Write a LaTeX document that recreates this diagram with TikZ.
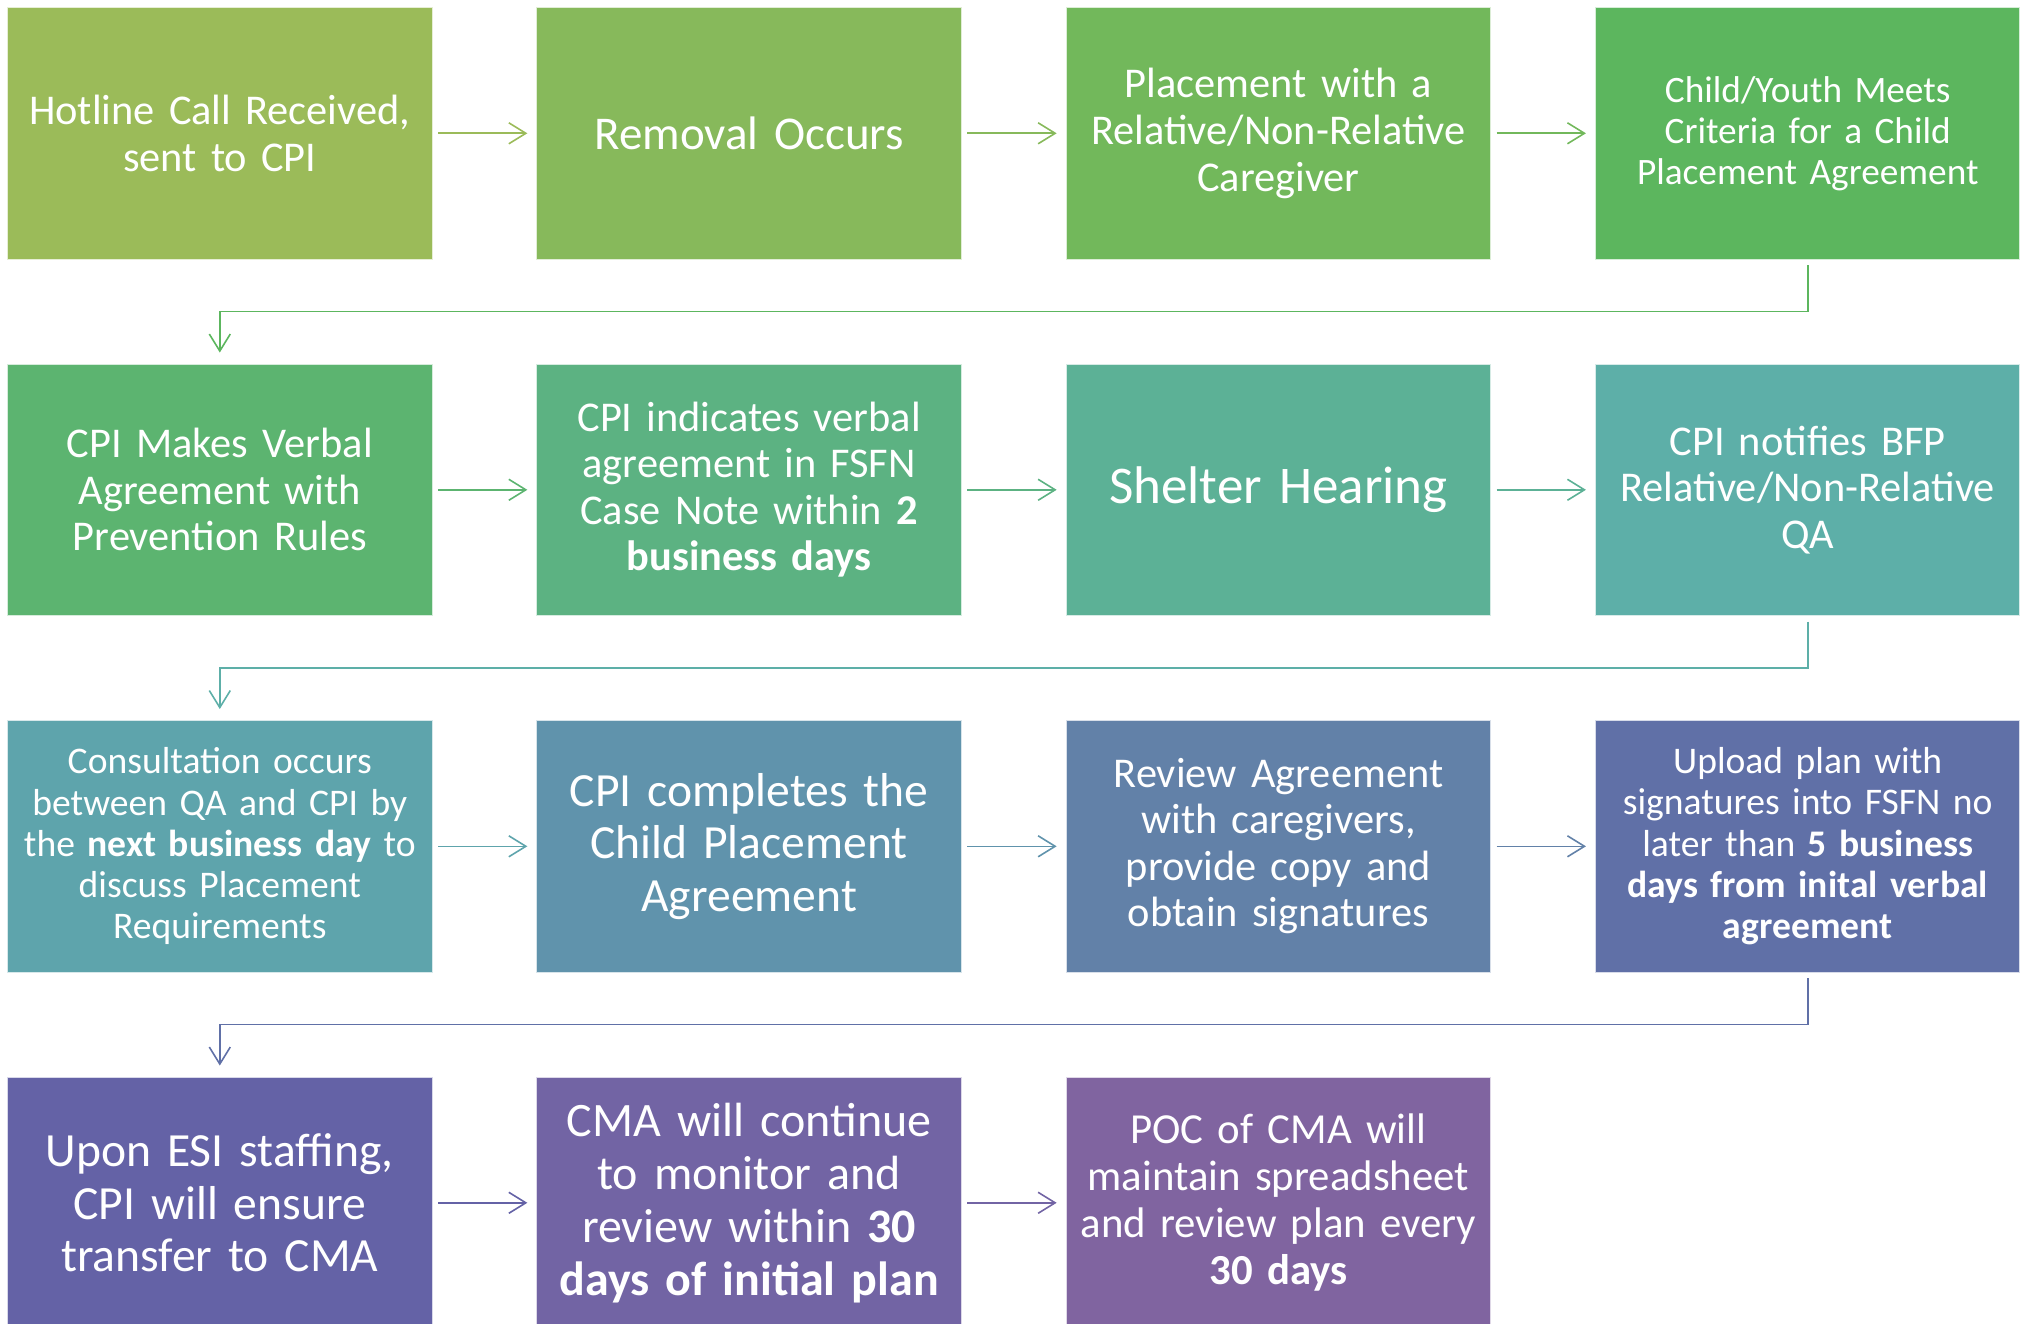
\documentclass[tikz,border=0pt]{standalone}
\usepackage{fontspec}
\setmainfont{Carlito}[WordSpace=0.85]
\usetikzlibrary{arrows.meta}
\definecolor{cA}{HTML}{9BBB59}
\definecolor{cB}{HTML}{87B95B}
\definecolor{cC}{HTML}{72B85B}
\definecolor{cD}{HTML}{5CB65E}
\definecolor{cE}{HTML}{5CB470}
\definecolor{cF}{HTML}{5CB282}
\definecolor{cG}{HTML}{5CB196}
\definecolor{cH}{HTML}{5DAFA8}
\definecolor{cI}{HTML}{5EA4AC}
\definecolor{cJ}{HTML}{6093AC}
\definecolor{cK}{HTML}{6281A8}
\definecolor{cL}{HTML}{6070A7}
\definecolor{cM}{HTML}{6462A6}
\definecolor{cN}{HTML}{7264A4}
\definecolor{cO}{HTML}{8064A0}
\newcommand\fsz[2]{\fontsize{#1}{#2}\selectfont}
\begin{document}
\begin{tikzpicture}[x=1pt,y=-1pt,
  box/.style={fill=#1, draw=white!75!#1, line width=1pt, minimum width=424.5pt,
    minimum height=251.5pt, inner sep=0pt, text width=415pt, align=center, text=white},
  arr/.style={draw=#1, line width=1.6pt, -{Straight Barb[length=17pt,width=21pt]},
    shorten <=5.5pt, shorten >=9pt},
  link/.style={draw=#1, line width=1.6pt, -{Straight Barb[length=17pt,width=21pt]},
    shorten <=5.5pt, shorten >=11pt}]
\useasboundingbox (0,0) rectangle (2024,1324);
\clip (0,0) rectangle (2024,1324);
% row 1
\node[box=cA, font=\fsz{42.4}{46.5}] (a1) at (219.8,133.3) {Hotline Call Received,\\sent to CPI};
\node[box=cB, font=\fsz{47}{51}] (a2) at (749.1,133.3) {Removal Occurs};
\node[box=cC, font=\fsz{42.4}{46.8}] (a3) at (1278.4,133.3) {Placement with a\\Relative/Non-Relative\\Caregiver};
\node[box=cD, font=\fsz{37.3}{41}] (a4) at (1807.7,133.3) {Child/Youth Meets\\Criteria for a Child\\Placement Agreement};
% row 2
\node[box=cE, font=\fsz{42.4}{46.5}] (b1) at (219.8,489.8) {CPI Makes Verbal\\Agreement with\\Prevention Rules};
\node[box=cF, font=\fsz{42.4}{46.5}] (b2) at (749.1,489.8) {CPI indicates verbal\\agreement in FSFN\\Case Note within \textbf{2}\\\textbf{business days}};
\node[box=cG, font=\fsz{53}{58}] (b3) at (1278.4,489.8) {Shelter Hearing};
\node[box=cH, font=\fsz{42.4}{46.5}] (b4) at (1807.7,489.8) {CPI notifies BFP\\Relative/Non-Relative\\QA};
% row 3
\node[box=cI, font=\fsz{37.6}{41.3}] (c1) at (219.8,846.3) {Consultation occurs\\between QA and CPI by\\the \textbf{next business day} to\\discuss Placement\\Requirements};
\node[box=cJ, font=\fsz{47.6}{52.3}] (c2) at (749.1,846.3) {CPI completes the\\Child Placement\\Agreement};
\node[box=cK, font=\fsz{42.4}{46.5}] (c3) at (1278.4,846.3) {Review Agreement\\with caregivers,\\provide copy and\\obtain signatures};
\node[box=cL, font=\fsz{37.6}{41.3}] (c4) at (1807.7,846.3) {Upload plan with\\signatures into FSFN no\\later than \textbf{5 business}\\\textbf{days from inital verbal}\\\textbf{agreement}};
% row 4
\node[box=cM, font=\fsz{47.6}{52.3}] (d1) at (219.8,1202.8) {Upon ESI staffing,\\CPI will ensure\\transfer to CMA};
\node[box=cN, font=\fsz{48}{52.9}] (d2) at (749.1,1202.8) {CMA will continue\\to monitor and\\review within \textbf{30}\\\textbf{days of initial plan}};
\node[box=cO, font=\fsz{42.8}{47}] (d3) at (1278.4,1202.8) {POC of CMA will\\maintain spreadsheet\\and review plan every\\\textbf{30 days}};
% arrows within rows
\draw[arr=cA] (a1.east) -- (a2.west);
\draw[arr=cB] (a2.east) -- (a3.west);
\draw[arr=cC] (a3.east) -- (a4.west);
\draw[arr=cE] (b1.east) -- (b2.west);
\draw[arr=cF] (b2.east) -- (b3.west);
\draw[arr=cG] (b3.east) -- (b4.west);
\draw[arr=cI] (c1.east) -- (c2.west);
\draw[arr=cJ] (c2.east) -- (c3.west);
\draw[arr=cK] (c3.east) -- (c4.west);
\draw[arr=cM] (d1.east) -- (d2.west);
\draw[arr=cN] (d2.east) -- (d3.west);
% links between rows
\draw[link=cD] (a4.south) -- ++(0,52) -| (b1.north);
\draw[link=cH] (b4.south) -- ++(0,52) -| (c1.north);
\draw[link=cL] (c4.south) -- ++(0,52) -| (d1.north);
\end{tikzpicture}
\end{document}
